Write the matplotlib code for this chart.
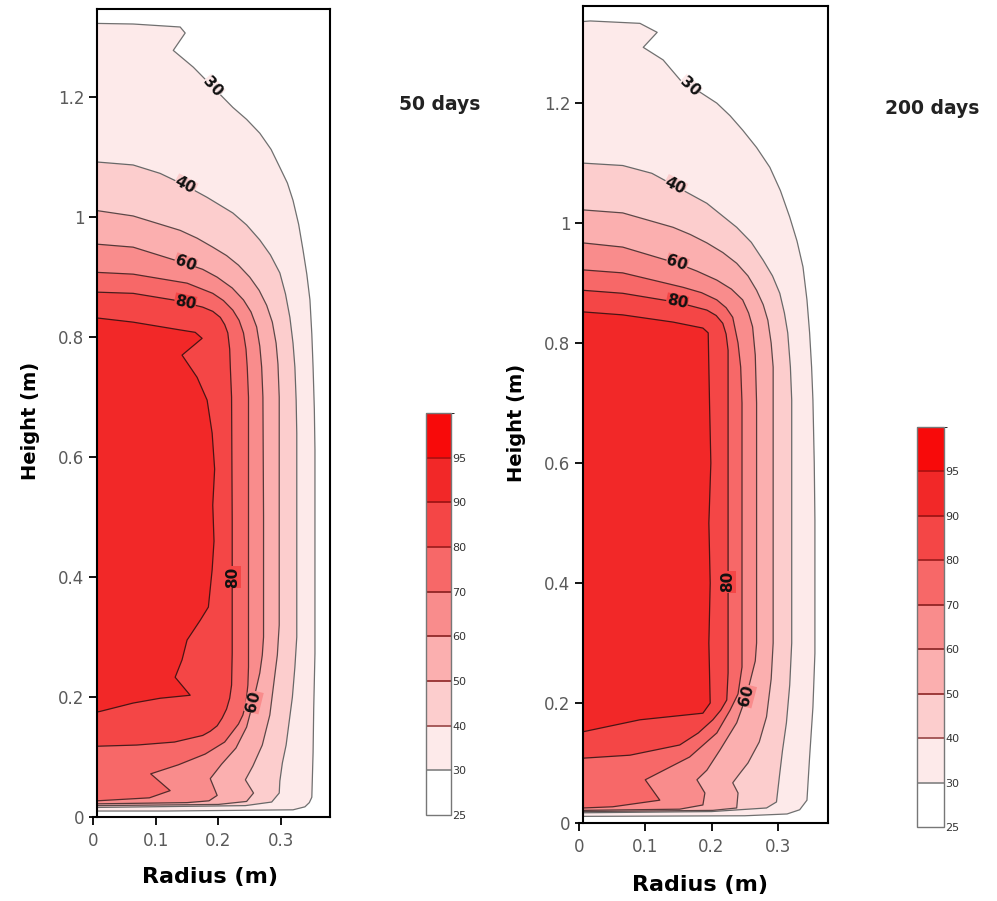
import matplotlib
matplotlib.use("Agg")
import matplotlib.pyplot as plt
from matplotlib.colors import ListedColormap, BoundaryNorm
from matplotlib.cm import ScalarMappable

# temperature classes (deg C) of the colour scale
levels = [25, 30, 40, 50, 60, 70, 80, 90, 95, 100]
cbar_ticks = [25, 30, 40, 50, 60, 70, 80, 90, 95]
band_colors = ["#ffffff", "#fdeaea", "#fccdcd", "#fbafaf", "#f98c8c",
               "#f76868", "#f44646", "#f22828", "#f80a0a"]
iso_levels = [30, 40, 50, 60, 70, 80, 90]

# isotherms: radius (m) / height (m),
# traced from the axis at the top, down the wall, back to the axis at the bottom

# ---- 50 days
r50_30 = [0.006, 0.064, 0.139, 0.147, 0.128, 0.160, 0.191, 0.223, 0.245, 0.266, 0.284,
          0.298, 0.310, 0.319, 0.328, 0.335, 0.341, 0.346, 0.349, 0.351, 0.353, 0.354,
          0.354, 0.352, 0.351, 0.349, 0.345, 0.338, 0.319, 0.117, 0.006]
z50_30 = [1.323, 1.322, 1.317, 1.307, 1.278, 1.250, 1.217, 1.183, 1.163, 1.140, 1.113,
          1.083, 1.057, 1.028, 0.988, 0.945, 0.905, 0.862, 0.805, 0.750, 0.680, 0.612,
          0.273, 0.180, 0.107, 0.033, 0.024, 0.017, 0.012, 0.010, 0.010]
r50_40 = [0.006, 0.064, 0.107, 0.147, 0.182, 0.223, 0.245, 0.266, 0.283, 0.298, 0.307,
          0.314, 0.319, 0.322, 0.324, 0.325, 0.325, 0.322, 0.318, 0.313, 0.308, 0.302,
          0.298, 0.297, 0.285, 0.243, 0.006]
z50_40 = [1.092, 1.087, 1.073, 1.053, 1.033, 1.007, 0.987, 0.962, 0.937, 0.907, 0.872,
          0.833, 0.790, 0.750, 0.695, 0.640, 0.300, 0.250, 0.200, 0.160, 0.120, 0.090,
          0.060, 0.040, 0.025, 0.019, 0.016]
r50_50 = [0.006, 0.064, 0.139, 0.166, 0.191, 0.213, 0.232, 0.250, 0.265, 0.277, 0.286,
          0.292, 0.295, 0.297, 0.297, 0.297, 0.294, 0.288, 0.282, 0.270, 0.255, 0.243,
          0.256, 0.245, 0.200, 0.006]
z50_50 = [1.011, 1.002, 0.978, 0.965, 0.950, 0.936, 0.920, 0.900, 0.878, 0.853, 0.825,
          0.790, 0.755, 0.700, 0.600, 0.320, 0.270, 0.220, 0.170, 0.120, 0.085, 0.062,
          0.040, 0.026, 0.021, 0.019]
r50_60 = [0.006, 0.064, 0.147, 0.175, 0.198, 0.222, 0.240, 0.252, 0.261, 0.266, 0.269,
          0.271, 0.272, 0.272, 0.270, 0.266, 0.255, 0.245, 0.228, 0.205, 0.187, 0.198,
          0.185, 0.150, 0.006]
z50_60 = [0.955, 0.950, 0.923, 0.913, 0.900, 0.882, 0.862, 0.842, 0.817, 0.785, 0.750,
          0.700, 0.500, 0.300, 0.270, 0.240, 0.190, 0.150, 0.115, 0.088, 0.064, 0.036,
          0.027, 0.024, 0.022]
r50_70 = [0.006, 0.064, 0.150, 0.191, 0.208, 0.223, 0.233, 0.240, 0.244, 0.246, 0.248,
          0.248, 0.248, 0.247, 0.244, 0.239, 0.232, 0.210, 0.179, 0.136, 0.092, 0.123,
          0.090, 0.006]
z50_70 = [0.908, 0.905, 0.890, 0.873, 0.861, 0.845, 0.828, 0.807, 0.780, 0.750, 0.700,
          0.500, 0.250, 0.220, 0.190, 0.170, 0.155, 0.125, 0.105, 0.087, 0.072, 0.044,
          0.032, 0.027]
r50_80 = [0.006, 0.064, 0.128, 0.175, 0.191, 0.203, 0.210, 0.215, 0.218, 0.219, 0.221,
          0.222, 0.222, 0.221, 0.218, 0.213, 0.206, 0.198, 0.187, 0.175, 0.130, 0.070, 0.006]
z50_80 = [0.875, 0.873, 0.862, 0.850, 0.843, 0.833, 0.821, 0.807, 0.780, 0.750, 0.700,
          0.495, 0.273, 0.220, 0.198, 0.180, 0.165, 0.152, 0.143, 0.136, 0.125, 0.120, 0.118]
r50_90 = [0.006, 0.064, 0.139, 0.163, 0.174, 0.142, 0.166, 0.182, 0.190, 0.194, 0.191,
          0.193, 0.190, 0.184, 0.171, 0.150, 0.142, 0.131, 0.155, 0.107, 0.064, 0.011, 0.006]
z50_90 = [0.832, 0.825, 0.812, 0.808, 0.798, 0.770, 0.733, 0.695, 0.640, 0.580, 0.520,
          0.460, 0.412, 0.350, 0.328, 0.295, 0.262, 0.233, 0.203, 0.198, 0.190, 0.176, 0.175]

# ---- 200 days
r200_30 = [0.006, 0.017, 0.092, 0.118, 0.097, 0.127, 0.157, 0.183, 0.208, 0.228, 0.247,
           0.268, 0.288, 0.304, 0.318, 0.329, 0.338, 0.344, 0.348, 0.351, 0.353, 0.355,
           0.356, 0.356, 0.353, 0.348, 0.344, 0.333, 0.314, 0.250, 0.006]
z200_30 = [1.336, 1.337, 1.333, 1.318, 1.293, 1.272, 1.233, 1.218, 1.200, 1.179, 1.155,
           1.126, 1.093, 1.054, 1.010, 0.970, 0.927, 0.872, 0.817, 0.760, 0.705, 0.600,
           0.505, 0.283, 0.193, 0.110, 0.038, 0.022, 0.015, 0.012, 0.011]
r200_40 = [0.006, 0.066, 0.110, 0.145, 0.193, 0.238, 0.260, 0.278, 0.292, 0.303, 0.310,
           0.315, 0.319, 0.321, 0.321, 0.318, 0.313, 0.307, 0.303, 0.298, 0.283, 0.200, 0.006]
z200_40 = [1.100, 1.096, 1.083, 1.062, 1.033, 0.993, 0.968, 0.938, 0.912, 0.883, 0.850,
           0.817, 0.760, 0.705, 0.300, 0.230, 0.167, 0.120, 0.083, 0.035, 0.025, 0.019, 0.017]
r200_50 = [0.006, 0.066, 0.142, 0.168, 0.193, 0.217, 0.238, 0.255, 0.268, 0.278, 0.285,
           0.290, 0.293, 0.293, 0.293, 0.290, 0.283, 0.272, 0.255, 0.243, 0.232, 0.240,
           0.238, 0.202, 0.006]
z200_50 = [1.022, 1.017, 0.993, 0.981, 0.967, 0.951, 0.933, 0.912, 0.888, 0.864, 0.838,
           0.800, 0.760, 0.700, 0.300, 0.240, 0.177, 0.135, 0.100, 0.083, 0.067, 0.050,
           0.025, 0.021, 0.019]
r200_60 = [0.006, 0.066, 0.148, 0.178, 0.208, 0.230, 0.247, 0.256, 0.262, 0.266, 0.268,
           0.268, 0.266, 0.258, 0.252, 0.238, 0.213, 0.193, 0.178, 0.190, 0.187, 0.152, 0.006]
z200_60 = [0.967, 0.960, 0.933, 0.920, 0.905, 0.890, 0.872, 0.850, 0.827, 0.780, 0.700,
           0.300, 0.270, 0.235, 0.210, 0.167, 0.122, 0.088, 0.072, 0.050, 0.030, 0.023, 0.021]
r200_70 = [0.006, 0.066, 0.157, 0.185, 0.208, 0.222, 0.232, 0.240, 0.244, 0.246, 0.246,
           0.240, 0.228, 0.208, 0.167, 0.100, 0.122, 0.051, 0.006]
z200_70 = [0.922, 0.917, 0.893, 0.884, 0.872, 0.859, 0.843, 0.800, 0.760, 0.700, 0.260,
           0.215, 0.188, 0.150, 0.110, 0.072, 0.038, 0.027, 0.025]
r200_80 = [0.006, 0.066, 0.148, 0.193, 0.207, 0.217, 0.222, 0.225, 0.225, 0.223, 0.214,
           0.202, 0.180, 0.152, 0.077, 0.006]
z200_80 = [0.888, 0.883, 0.868, 0.855, 0.846, 0.833, 0.815, 0.788, 0.250, 0.205, 0.188,
           0.172, 0.150, 0.130, 0.113, 0.108]
r200_90 = [0.006, 0.066, 0.142, 0.187, 0.195, 0.197, 0.199, 0.196, 0.198, 0.196, 0.198,
           0.187, 0.092, 0.006]
z200_90 = [0.852, 0.847, 0.835, 0.825, 0.817, 0.700, 0.600, 0.500, 0.400, 0.300, 0.200,
           0.183, 0.172, 0.152]

curves50 = [(r50_30, z50_30), (r50_40, z50_40), (r50_50, z50_50), (r50_60, z50_60),
            (r50_70, z50_70), (r50_80, z50_80), (r50_90, z50_90)]
curves200 = [(r200_30, z200_30), (r200_40, z200_40), (r200_50, z200_50), (r200_60, z200_60),
             (r200_70, z200_70), (r200_80, z200_80), (r200_90, z200_90)]

# inline labels: text, radius, height, angle
labels50 = [("30", 0.191, 1.217, -48), ("40", 0.147, 1.053, -28), ("60", 0.147, 0.923, -20),
            ("80", 0.147, 0.858, -12), ("80", 0.223, 0.400, 90), ("60", 0.256, 0.192, 76)]
labels200 = [("30", 0.167, 1.227, -42), ("40", 0.145, 1.062, -27), ("60", 0.148, 0.933, -18),
             ("80", 0.148, 0.868, -12), ("80", 0.225, 0.402, 90), ("60", 0.253, 0.212, 75)]

line_colors = {30: "#707070", 40: "#686868", 50: "#5c4848", 60: "#553838",
               70: "#552a2a", 80: "#4a1c1c", 90: "#4a1414"}
cbar_line_colors = ["#8a8a8a", "#a05050", "#963030", "#902a2a", "#902525",
                    "#a02020", "#a01515", "#b01010"]

fig = plt.figure(figsize=(9.97, 9.01), dpi=100)
cmap = ListedColormap(band_colors)
norm = BoundaryNorm(levels, cmap.N)


def draw_panel(ax, cax, curves, labels, xmax, ymax, r_in):
    ax.set_xlim(0, xmax)
    ax.set_ylim(0, ymax)
    for lev, (r, z) in zip(iso_levels, curves):
        ax.fill(r, z, color=band_colors[levels.index(lev)], lw=0, zorder=1)
    for lev, (r, z) in zip(iso_levels, curves):
        ax.plot(r, z, color=line_colors[lev], lw=0.9, zorder=2)
    for txt, r, z, rot in labels:
        lev = int(txt)
        ax.text(r, z, txt, rotation=rot, rotation_mode="anchor", ha="center", va="center",
                fontsize=11, fontweight="bold", color="#111111", zorder=3,
                bbox=dict(boxstyle="square,pad=0.02", fc=band_colors[levels.index(lev)], ec="none"))

    ax.spines["left"].set_position(("data", r_in))
    ax.spines["top"].set_bounds(r_in, xmax)
    for s in ax.spines.values():
        s.set_linewidth(1.5)
    ax.set_xticks([0, 0.1, 0.2, 0.3])
    ax.set_xticklabels(["0", "0.1", "0.2", "0.3"])
    ax.set_yticks([0, 0.2, 0.4, 0.6, 0.8, 1.0, 1.2])
    ax.set_yticklabels(["0", "0.2", "0.4", "0.6", "0.8", "1", "1.2"])
    ax.tick_params(direction="out", length=6, width=1.3, labelsize=12, labelcolor="#5a5a5a")
    ax.tick_params(axis="x", pad=5)
    ax.tick_params(axis="y", pad=3)

    cb = fig.colorbar(ScalarMappable(norm=norm, cmap=cmap), cax=cax, boundaries=levels,
                      spacing="uniform", ticks=cbar_ticks)
    cb.add_lines(levels[1:-1], colors=cbar_line_colors, linewidths=[1.3] * 8)
    cb.outline.set_edgecolor("#777777")
    cb.outline.set_linewidth(1.0)
    cb.ax.tick_params(length=0, labelsize=8, labelcolor="#333333", pad=1)


ax1 = fig.add_axes([0.0933, 0.0932, 0.2377, 0.8968])
cax1 = fig.add_axes([0.4273, 0.0954, 0.0251, 0.4462])
draw_panel(ax1, cax1, curves50, labels50, 0.378, 1.347, 0.0064)

ax2 = fig.add_axes([0.5807, 0.0866, 0.2497, 0.9068])
cax2 = fig.add_axes([0.9198, 0.0821, 0.0271, 0.4440])
draw_panel(ax2, cax2, curves200, labels200, 0.3756, 1.362, 0.006)

fig.text(30 / 997, 1 - 421 / 901, "Height (m)", rotation=90, ha="center", va="center",
         fontsize=14, fontweight="bold")
fig.text(516 / 997, 1 - 423 / 901, "Height (m)", rotation=90, ha="center", va="center",
         fontsize=14, fontweight="bold")
fig.text(210 / 997, 1 - 877 / 901, "Radius (m)", ha="center", va="center",
         fontsize=16, fontweight="bold")
fig.text(700 / 997, 1 - 885 / 901, "Radius (m)", ha="center", va="center",
         fontsize=16, fontweight="bold")
fig.text(440 / 997, 1 - 105 / 901, "50 days", ha="center", va="center",
         fontsize=13.5, fontweight="bold", color="#222222")
fig.text(932 / 997, 1 - 108 / 901, "200 days", ha="center", va="center",
         fontsize=13.5, fontweight="bold", color="#222222")

fig.savefig("out.png", dpi=100)
